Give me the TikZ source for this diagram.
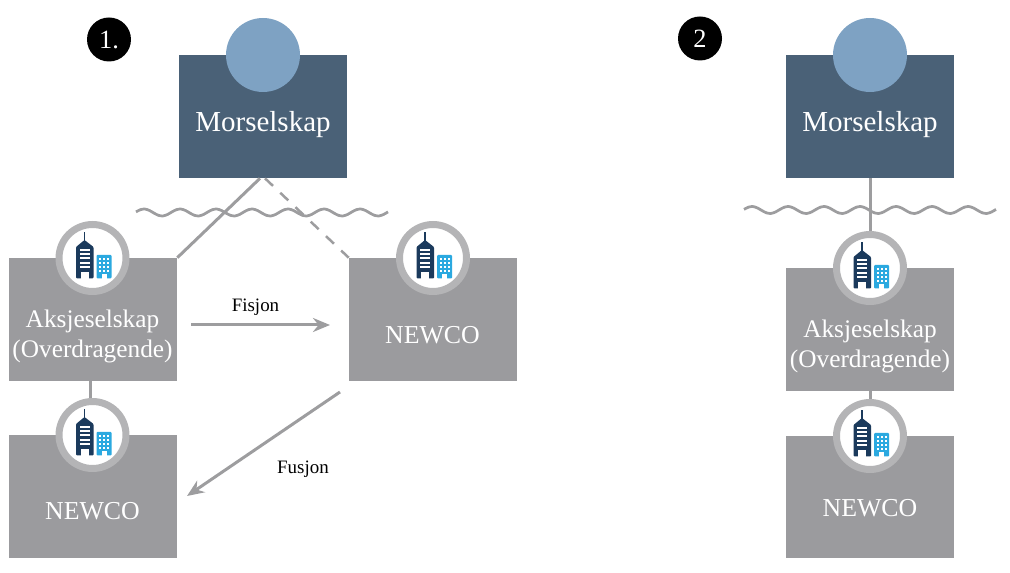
\documentclass[tikz,border=0pt]{standalone}
\usepackage{fontspec}
\setmainfont{Liberation Serif}
\usetikzlibrary{arrows.meta}
\definecolor{boxgray}{HTML}{9B9B9E}
\definecolor{ringgray}{HTML}{B4B4B6}
\definecolor{linegray}{HTML}{9D9D9F}
\definecolor{mothblue}{HTML}{4A6177}
\definecolor{mothdisc}{HTML}{7EA2C3}
\definecolor{towerblue}{HTML}{1B3A5C}
\definecolor{annexblue}{HTML}{2BA9E0}
\tikzset{
  mothbox/.style={fill=mothblue,minimum width=3.36cm,minimum height=2.46cm,inner sep=0pt},
  greybox/.style={fill=boxgray,minimum width=3.36cm,minimum height=2.46cm,inner sep=0pt},
  disc/.style={circle,fill=mothdisc,minimum size=1.48cm,inner sep=0pt},
  ring/.style={circle,draw=ringgray,line width=0.14cm,fill=white,minimum size=1.34cm,inner sep=0pt},
  numdot/.style={circle,fill=black,text=white,minimum size=0.88cm,inner sep=0pt,font=\fontsize{15}{15}\selectfont},
  boxtext/.style={text=white,align=center,font=\fontsize{14.4}{17.1}\selectfont,inner sep=0pt},
  newtext/.style={text=white,font=\fontsize{14.7}{15}\selectfont,inner sep=0pt},
  mothtext/.style={text=white,font=\fontsize{16.5}{17}\selectfont,inner sep=0pt},
  smalltext/.style={text=black,font=\fontsize{10.8}{11}\selectfont,inner sep=0pt},
  conn/.style={draw=linegray,line width=0.06cm},
  flow/.style={draw=linegray,line width=0.06cm,-{Stealth[length=0.34cm,width=0.28cm]}},
  wave/.style={draw=linegray,line width=0.055cm,line join=round}
}
\newcommand{\bldicon}[1]{%
  \begin{scope}[shift={(#1)}]
    \fill[towerblue] (-8.7,-26) rectangle (-7.3,-17);
    \fill[towerblue,rounded corners=0.02cm] (-16.5,20.5) -- (-16.5,-11) -- (-8,-18) -- (1,-11) -- (1,20.5) -- cycle;
    \fill[white] (-12,21) rectangle (-4,14);
    \foreach \yy in {-8,-4,0,5,9} \fill[white] (-13,\yy-0.8) rectangle (-3,\yy+0.8);
    \fill[annexblue,rounded corners=0.02cm] (4,-3) rectangle (19,20.5);
    \foreach \yy in {0,4,8,12} \foreach \xx in {6.5,10.5,14.5} \fill[white] (\xx,\yy) rectangle ++(2.2,2);
    \fill[white] (9,21) rectangle (14,16);
  \end{scope}}
\newcommand{\wavy}[2]{%
  \draw[wave] plot[smooth,samples=57,domain=0:252] ({#1+\x},{#2-3.5*cos((\x-8)*10)});}
\begin{document}
\begin{tikzpicture}[x=0.02cm,y=-0.02cm]
\useasboundingbox (0,0) rectangle (1010,573);
% first structure
\node[numdot] (n1) at (109,39.5) {1.};
\node[mothbox] (mor1) at (263,116.5) {};
\node[disc] (dsc1) at (263,55) {};
\node[mothtext] (mor1t) at (263,124.5) {Morselskap};
\node[greybox] (aks1) at (93,319.5) {};
\node[greybox] (new1) at (433,319.5) {};
\node[greybox] (new2) at (93,496.5) {};
\draw[conn] ([xshift=-0.06cm]mor1.south) -- (aks1.north east);
\draw[conn,line width=0.05cm,dash pattern=on 0.22cm off 0.2cm] ([xshift=0.04cm]mor1.south) -- (new1.north west);
\draw[conn] (aks1.south -| 90,0) -- (new2.north -| 90,0);
\wavy{136}{212.5}
\node[ring] (ic1) at (92.5,258) {};
\node[ring] (ic2) at (433,258) {};
\node[ring] (ic3) at (92.5,435) {};
\bldicon{ic1.center}
\bldicon{ic2.center}
\bldicon{ic3.center}
\node[boxtext] (aks1t) at (92.5,336.5) {Aksjeselskap\\(Overdragende)};
\node[newtext] (new1t) at (432.5,335) {NEWCO};
\node[newtext] (new2t) at (92.5,511.5) {NEWCO};
\coordinate (fis0) at (191,325);
\coordinate (fis1) at (330,325);
\coordinate (fus0) at (340,392);
\coordinate (fus1) at (187,496);
\draw[flow] (fis0) -- (fis1);
\draw[flow] (fus0) -- (fus1);
\node[smalltext] (fis) at (255.5,307) {Fisjon};
\node[smalltext] (fus) at (303,469) {Fusjon};
% second structure
\node[numdot] (n2) at (700,38.5) {2};
\node[mothbox] (mor2) at (870,116.5) {};
\node[disc] (dsc2) at (870,55) {};
\node[mothtext] (mor2t) at (870,124.5) {Morselskap};
\node[greybox] (aks2) at (870,329.5) {};
\node[greybox,minimum height=2.44cm] (new3) at (870,497) {};
\draw[conn] (aks2.south) -- (new3.north);
\wavy{744}{210}
\node[ring] (ic4) at (870,268) {};
\node[ring] (ic5) at (870,436) {};
\draw[conn] (mor2.south) -- (ic4.north);
\bldicon{ic4.center}
\bldicon{ic5.center}
\node[boxtext] (aks2t) at (870,346.5) {Aksjeselskap\\(Overdragende)};
\node[newtext] (new3t) at (870,508.5) {NEWCO};
\end{tikzpicture}
\end{document}
